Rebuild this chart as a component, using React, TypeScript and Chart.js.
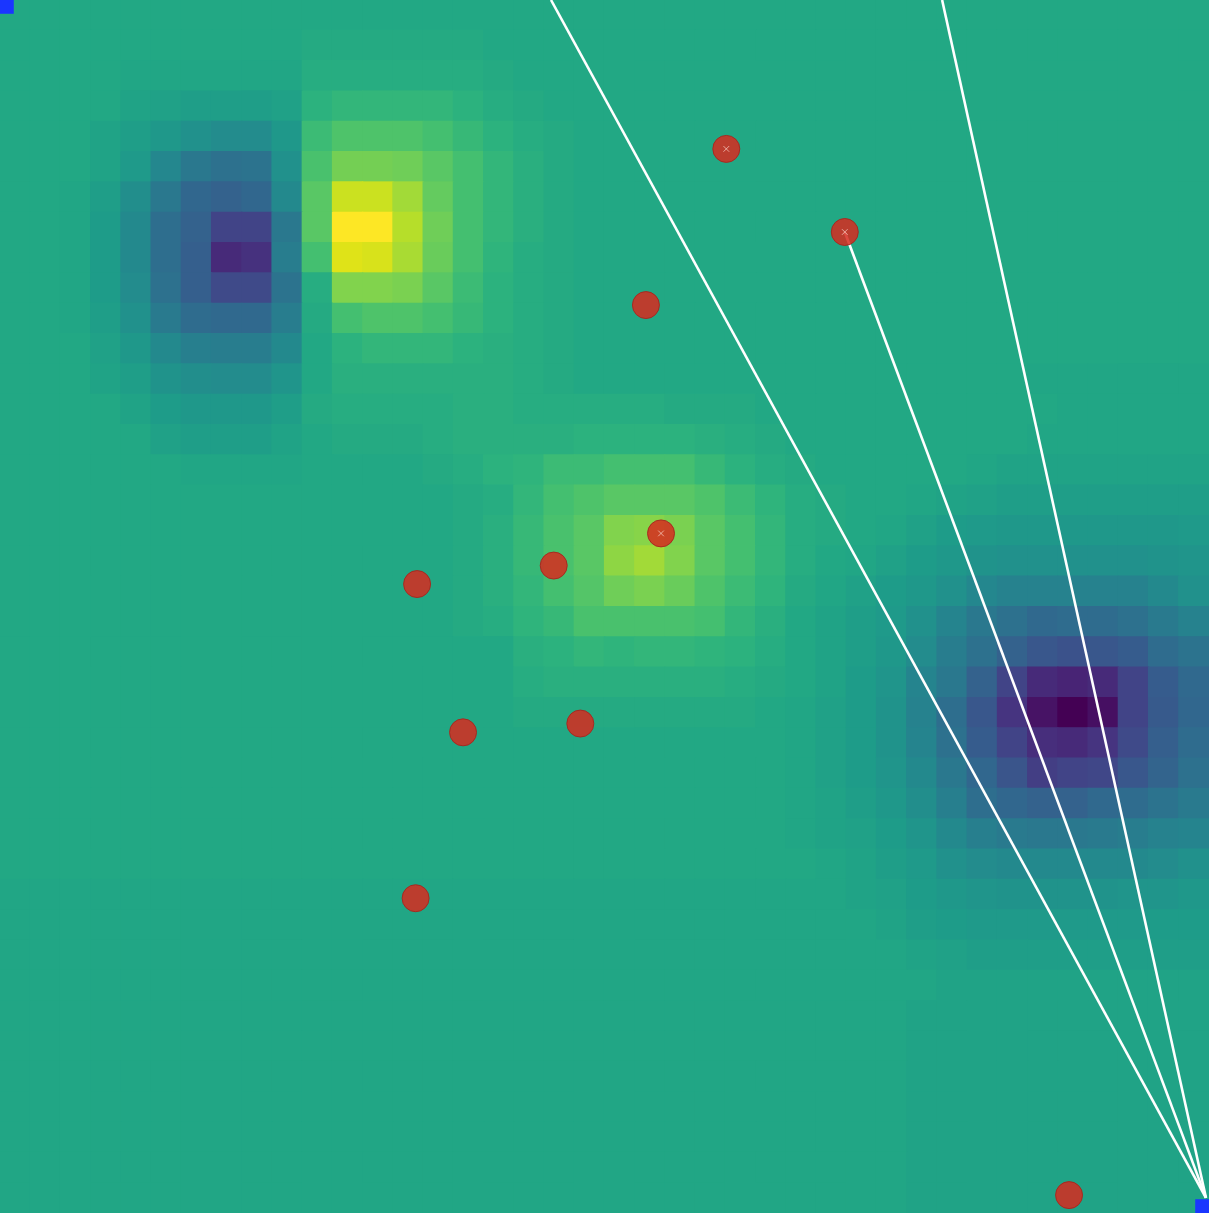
import React, { useEffect, useRef } from "react";
import { Chart, registerables } from "chart.js";

Chart.register(...registerables);

// Field values (percent of the colour scale, 0 = dark purple, 100 = yellow), 40 rows x 40 columns, top row first
const heatRows: number[][] = [
  [60,60,60,60,60,60,60,60,60,60,60,60,60,60,60,60,60,60,60,60,60,60,60,60,60,60,60,60,60,60,60,60,60,60,60,60,60,60,60,60],
  [60,60,60,60,60,60,60,60,60,60,61,61,61,61,61,61,60,60,60,60,60,60,60,60,60,60,60,60,60,60,60,60,60,60,60,60,60,60,60,60],
  [60,60,60,60,59,59,59,59,59,59,62,62,62,62,62,62,61,60,60,60,60,60,60,60,60,60,60,60,60,60,60,60,60,60,60,60,60,60,60,60],
  [60,60,60,60,58,57,56,56,56,57,64,66,66,66,66,64,62,61,60,60,60,60,60,60,60,60,60,60,60,60,60,60,60,60,60,60,60,60,60,60],
  [60,60,60,58,56,53,50,48,48,53,68,72,72,72,70,67,64,62,61,60,60,60,60,60,60,60,60,60,60,60,60,60,60,60,60,60,60,60,60,60],
  [60,60,60,58,54,46,40,37,38,50,71,79,79,78,74,70,66,63,61,60,60,60,60,60,60,60,60,60,60,60,60,60,60,60,60,60,60,60,60,60],
  [60,60,59,56,49,40,33,31,33,47,74,92,92,86,76,70,66,63,61,60,60,60,60,60,60,60,60,60,60,60,60,60,60,60,60,60,60,60,60,60],
  [60,60,59,55,47,36,31,20,20,40,74,100,100,89,78,70,66,63,61,60,60,60,60,60,60,60,60,60,60,60,60,60,60,60,60,60,60,60,60,60],
  [60,60,59,55,47,36,30,12,14,42,70,95,94,87,77,70,65,62,61,60,60,60,60,60,60,60,60,60,60,60,60,60,60,60,60,60,60,60,60,60],
  [60,60,59,55,48,37,30,22,22,38,62,81,81,80,74,68,64,62,61,60,60,60,60,60,60,60,60,60,60,60,60,60,60,60,60,60,60,60,60,60],
  [60,60,59,56,50,41,35,34,34,42,61,70,72,72,70,67,64,62,61,60,60,60,60,60,60,60,60,60,60,60,60,60,60,60,60,60,60,60,60,60],
  [60,60,60,57,53,47,43,42,42,47,60,64,66,66,66,64,63,62,61,60,60,60,60,60,60,60,60,60,60,60,60,60,60,60,60,60,60,60,60,60],
  [60,60,60,58,56,51,49,48,48,52,60,63,63,63,63,63,63,62,61,60,60,60,60,60,60,60,60,60,60,60,60,60,60,60,59,59,59,59,59,59],
  [60,60,60,60,58,55,53,53,53,56,61,62,62,62,62,63,63,62,62,62,62,62,61,61,61,60,60,60,60,60,60,60,60,60,60,59,59,59,59,59],
  [60,60,60,60,60,57,56,56,56,58,60,61,61,61,62,63,63,63,63,64,64,64,64,63,62,61,60,60,60,60,60,60,60,60,59,59,59,59,59,59],
  [60,60,60,60,60,60,59,59,59,59,60,60,60,60,61,62,64,65,68,68,70,70,70,67,64,62,61,60,60,60,60,60,59,58,58,58,58,58,58,58],
  [60,60,60,60,60,60,60,60,60,60,60,60,60,60,60,61,62,66,70,72,74,74,74,72,68,65,62,61,60,60,59,58,57,56,56,56,56,56,56,56],
  [60,60,60,60,60,60,60,60,60,60,60,60,60,60,60,61,63,67,71,74,81,82,80,74,70,66,62,61,60,59,57,55,54,53,53,53,53,53,53,54],
  [60,60,60,60,60,60,60,60,60,60,60,60,60,60,60,61,63,67,71,74,83,86,81,74,70,66,62,60,59,57,55,53,51,50,50,50,50,50,51,52],
  [60,60,60,60,60,60,60,60,60,60,60,60,60,60,60,61,63,66,70,73,78,80,77,72,68,65,61,59,57,55,53,50,46,44,44,44,44,44,47,50],
  [60,60,60,60,60,60,60,60,60,60,60,60,60,60,60,61,62,65,67,71,71,71,71,70,66,63,60,58,56,54,50,45,40,37,34,35,35,37,41,44],
  [60,60,60,60,60,60,60,60,60,60,60,60,60,60,60,60,60,63,64,66,65,66,66,65,64,62,60,58,56,53,48,42,37,31,27,25,27,29,35,38],
  [60,60,60,60,60,60,60,60,60,60,60,60,60,60,60,60,60,62,63,63,63,63,63,63,62,61,60,58,55,52,45,40,31,20,12,10,12,20,29,34],
  [60,60,60,60,60,60,60,60,60,60,60,60,60,60,60,60,60,61,61,61,61,61,61,61,61,60,59,57,55,51,44,36,27,15,5,0,4,20,28,33],
  [60,60,60,60,60,60,60,60,60,60,60,60,60,60,60,60,60,60,60,60,60,60,60,60,60,60,59,57,55,51,45,37,29,20,13,12,15,22,30,35],
  [60,60,60,60,60,60,60,60,60,60,60,60,60,60,60,60,60,60,60,60,60,60,60,60,60,60,59,57,55,52,47,40,33,26,18,20,21,27,32,37],
  [60,60,60,60,60,60,60,60,60,60,60,60,60,60,60,60,60,60,60,60,60,60,60,60,60,60,59,58,56,53,49,43,36,33,31,31,34,35,38,41],
  [60,60,60,60,60,60,60,60,60,60,60,60,60,60,60,60,60,60,60,60,60,60,60,60,60,60,59,58,57,55,52,47,43,41,40,40,41,42,44,45],
  [60,60,60,60,60,60,60,60,60,60,60,60,60,60,60,60,60,60,60,60,60,60,60,60,60,60,60,59,58,56,54,50,48,47,47,47,47,47,48,50],
  [59,59,59,59,59,59,59,59,59,59,59,59,59,59,59,59,59,59,59,59,59,59,59,59,59,59,59,59,58,57,55,53,52,51,51,51,51,52,52,53],
  [59,59,59,59,59,59,59,59,59,59,59,59,59,59,59,59,59,59,59,59,59,59,59,59,59,59,59,59,59,58,56,55,54,54,54,54,54,54,55,55],
  [59,59,59,59,59,59,59,59,59,59,59,59,59,59,59,59,59,59,59,59,59,59,59,59,59,59,59,59,59,59,58,57,56,56,56,56,56,56,56,56],
  [59,59,59,59,59,59,59,59,59,59,59,59,59,59,59,59,59,59,59,59,59,59,59,59,59,59,59,59,59,59,59,58,58,58,58,58,58,58,58,58],
  [59,59,59,59,59,59,59,59,59,59,59,59,59,59,59,59,59,59,59,59,59,59,59,59,59,59,59,59,59,59,58,58,58,58,58,58,58,58,58,58],
  [59,59,59,59,59,59,59,59,59,59,59,59,59,59,59,59,59,59,59,59,59,59,59,59,59,59,59,59,59,59,58,58,58,58,58,58,58,58,58,58],
  [59,59,59,59,59,59,59,59,59,59,59,59,59,59,59,59,59,59,59,59,59,59,59,59,59,59,59,59,59,59,58,58,58,58,58,58,58,58,58,58],
  [59,59,59,59,59,59,59,59,59,59,59,59,59,59,59,59,59,59,59,59,59,59,59,59,59,59,59,59,59,59,58,58,58,58,58,58,58,58,58,58],
  [59,59,59,59,59,59,59,59,59,59,59,59,59,59,59,59,59,59,59,59,59,59,59,59,59,59,59,59,59,59,58,58,58,58,58,58,58,58,58,58],
  [59,59,59,59,59,59,59,59,59,59,59,59,59,59,59,59,59,59,59,59,59,59,59,59,59,59,59,59,59,59,58,58,58,58,58,58,58,58,58,58],
  [59,59,59,59,59,59,59,59,59,59,59,59,59,59,59,59,59,59,59,59,59,59,59,59,59,59,59,59,59,59,58,58,58,58,58,58,58,58,58,58],
];

// Target points (grid units, y measured downward)
const pointX: number[] = [24.03, 27.95, 21.37, 21.87, 18.32, 13.80, 15.32, 19.20, 13.75, 35.37];
const pointY: number[] = [4.91, 7.65, 10.06, 17.59, 18.65, 19.26, 24.15, 23.86, 29.62, 39.41];

// Small cross markers inside some targets
const crossX: number[] = [24.03, 27.95, 21.87];
const crossY: number[] = [4.91, 7.65, 17.59];

// Rays from the sensor
const sensorX = 39.9;
const sensorY = 39.5;
const rayEndX: number[] = [18.23, 31.17, 27.95];
const rayEndY: number[] = [0, 0, 7.65];

// Corner markers
const cornerX: number[] = [0, 40];
const cornerY: number[] = [0, 40];

const VIRIDIS: string[] = [
  "#440154", "#471365", "#482475", "#463480", "#414487", "#3b528b", "#355f8d",
  "#2f6c8e", "#2a788e", "#25848e", "#21918c", "#1e9c89", "#22a884", "#2fb47c",
  "#44bf70", "#5ec962", "#7ad151", "#9bd93c", "#bddf26", "#dfe318", "#fde725",
];

function hexToRgb(h: string): number[] {
  return [parseInt(h.slice(1, 3), 16), parseInt(h.slice(3, 5), 16), parseInt(h.slice(5, 7), 16)];
}

function viridis(t: number): string {
  const tt = Math.max(0, Math.min(1, t));
  const pos = tt * (VIRIDIS.length - 1);
  const i = Math.min(VIRIDIS.length - 2, Math.floor(pos));
  const f = pos - i;
  const a = hexToRgb(VIRIDIS[i]);
  const b = hexToRgb(VIRIDIS[i + 1]);
  const c = a.map((v, k) => Math.round(v + (b[k] - v) * f));
  return `rgb(${c[0]},${c[1]},${c[2]})`;
}

export default function App() {
  const canvasRef = useRef<HTMLCanvasElement | null>(null);

  useEffect(() => {
    document.body.style.margin = "0";
    document.body.style.overflow = "hidden";
    const canvas = canvasRef.current;
    if (!canvas) return;

    const cells: { x: number; y: number[] }[] = [];
    const cellColors: string[] = [];
    heatRows.forEach((row, r) => {
      row.forEach((v, c) => {
        cells.push({ x: c + 0.5, y: [r, r + 1] });
        cellColors.push(viridis(v / 100));
      });
    });

    const rays = rayEndX.map((ex, i) => ({
      type: "line" as const,
      data: [
        { x: sensorX, y: sensorY },
        { x: ex, y: rayEndY[i] },
      ],
      borderColor: "#ffffff",
      borderWidth: 2.6,
      pointRadius: 0,
      fill: false,
      tension: 0,
      order: 50,
    }));

    const chart = new Chart(canvas, {
      type: "bar",
      data: {
        datasets: [
          {
            type: "bar",
            data: cells as any,
            backgroundColor: cellColors,
            hoverBackgroundColor: cellColors,
            borderWidth: 0,
            barPercentage: 1,
            categoryPercentage: 1,
            inflateAmount: 0.6,
            order: 100,
          } as any,
          ...(rays as any[]),
          {
            type: "scatter",
            data: pointX.map((x, i) => ({ x, y: pointY[i] })),
            backgroundColor: "rgba(215,42,30,0.85)",
            borderColor: "rgba(165,38,30,0.9)",
            borderWidth: 1,
            pointRadius: 13.5,
            pointHoverRadius: 13.5,
            order: 20,
          } as any,
          {
            type: "scatter",
            data: crossX.map((x, i) => ({ x, y: crossY[i] })),
            pointStyle: "crossRot",
            borderColor: "rgba(255,225,215,0.65)",
            backgroundColor: "rgba(255,225,215,0.65)",
            borderWidth: 1,
            pointRadius: 4,
            order: 10,
          } as any,
          {
            type: "scatter",
            data: cornerX.map((x, i) => ({ x, y: cornerY[i] })),
            pointStyle: "rect",
            backgroundColor: "#1a36ff",
            borderWidth: 0,
            pointRadius: 19.5,
            pointHoverRadius: 19.5,
            order: 0,
          } as any,
        ],
      },
      options: {
        animation: false,
        responsive: false,
        events: [],
        layout: { padding: 0, autoPadding: false },
        plugins: {
          legend: { display: false },
          tooltip: { enabled: false },
        },
        scales: {
          x: { type: "linear", min: 0, max: 40, display: false, offset: false, grid: { display: false } },
          y: { type: "linear", min: 0, max: 40, reverse: true, display: false, grid: { display: false } },
        },
      } as any,
    });

    return () => {
      chart.destroy();
    };
  }, []);

  return (
    <div style={{ width: 1209, height: 1213 }}>
      <canvas ref={canvasRef} width={1209} height={1213} style={{ display: "block" }} />
    </div>
  );
}
